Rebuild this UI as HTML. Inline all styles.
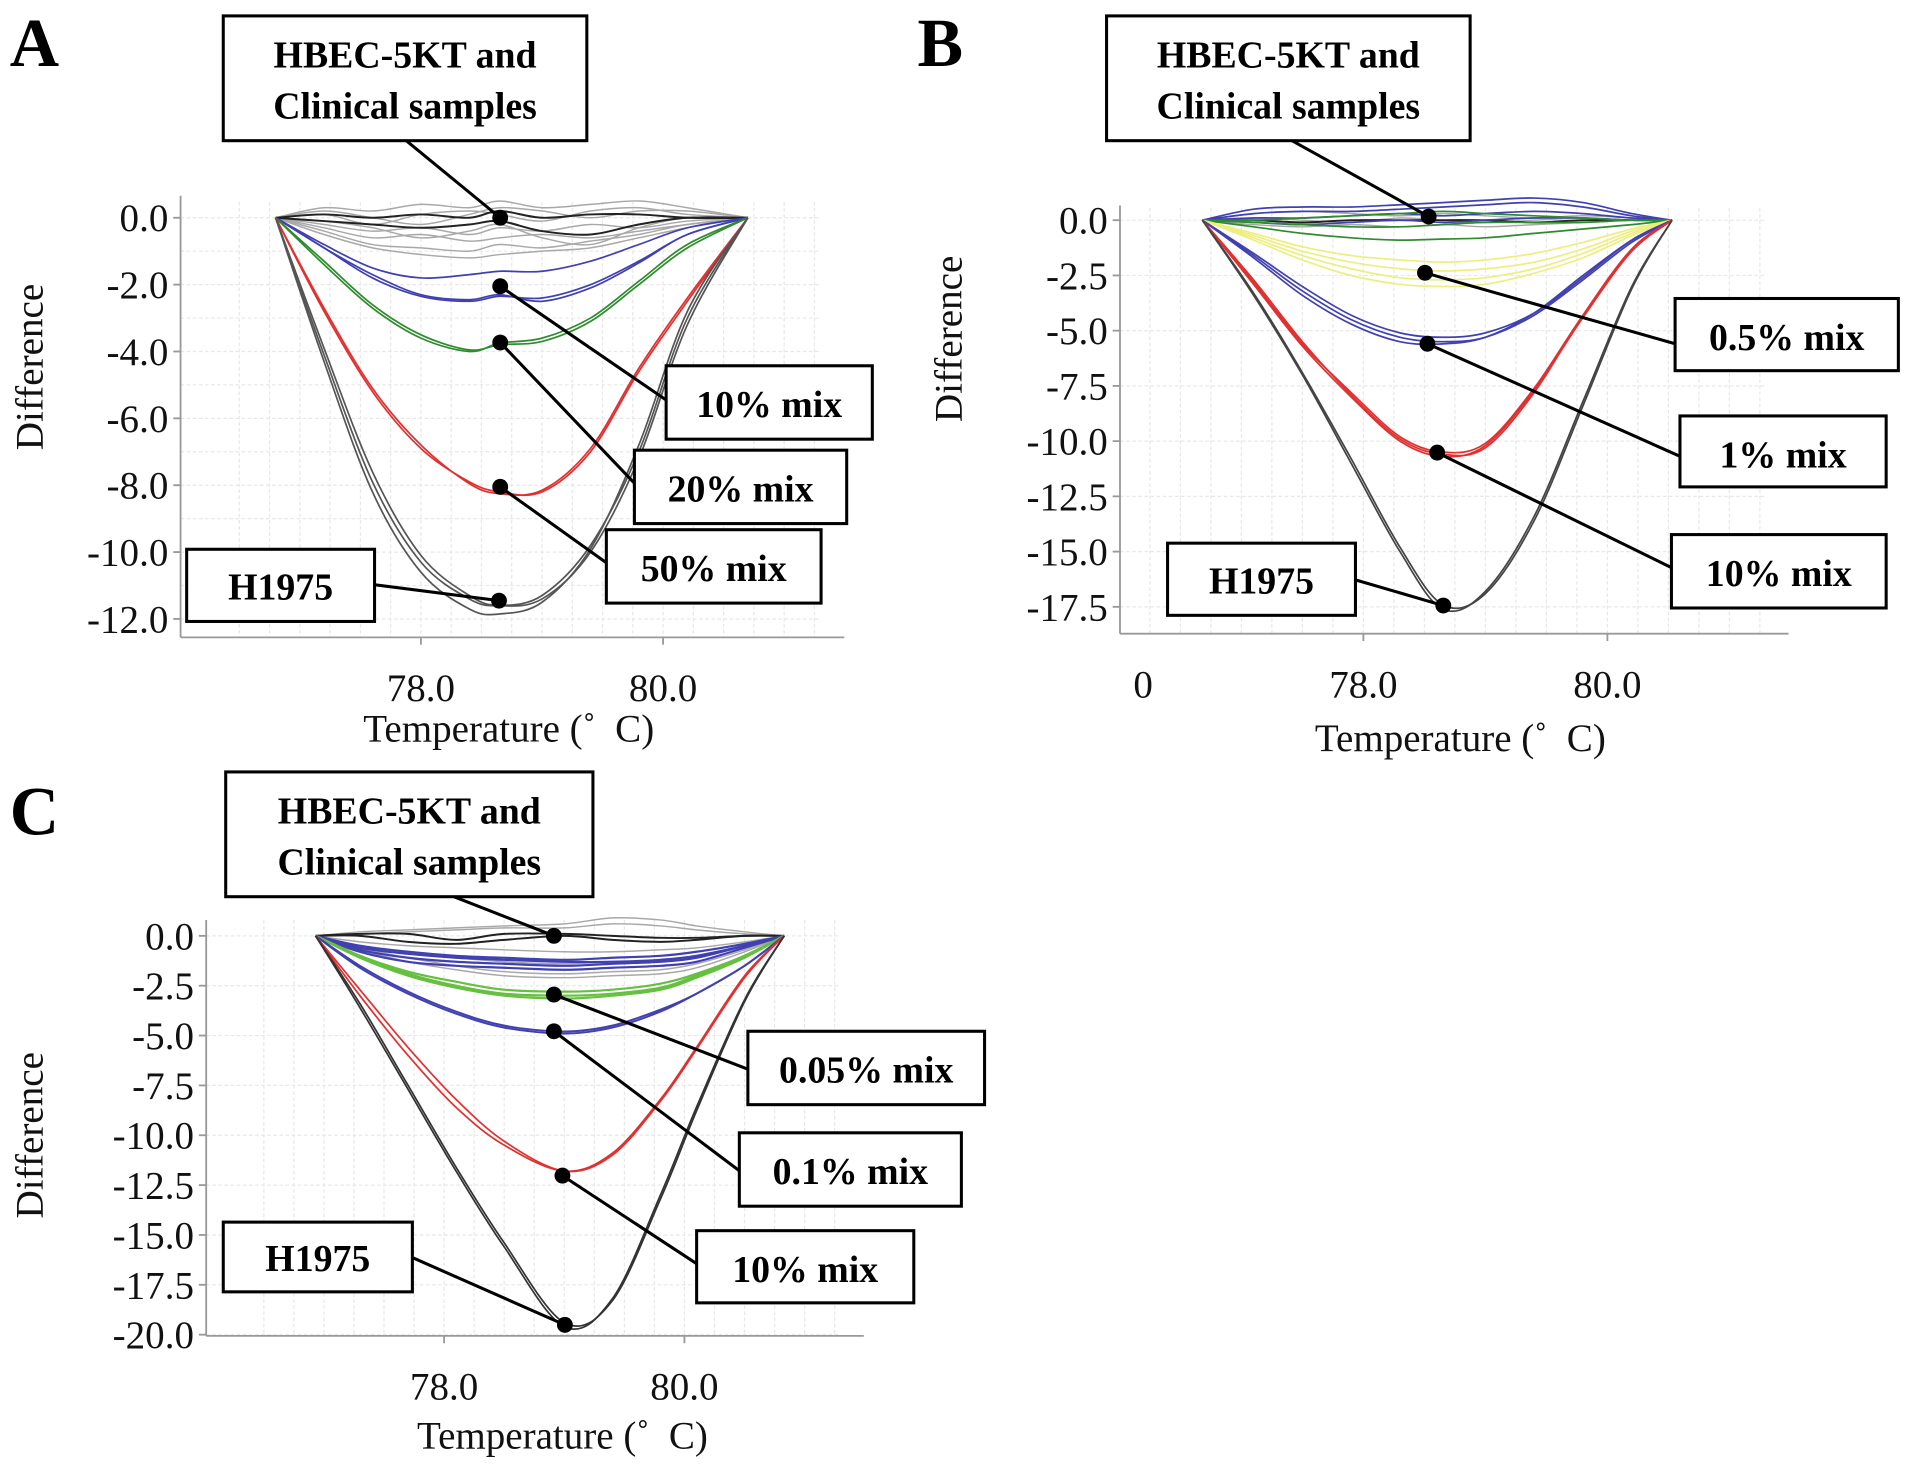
<!DOCTYPE html>
<html><head><meta charset="utf-8">
<style>
html,body{margin:0;padding:0;background:#fff;}
svg{display:block;}
text{font-family:"Liberation Serif",serif;}
.tick{font-size:32px;fill:#111;}
.ttl{font-size:32px;fill:#111;}
.box{font-size:31px;font-weight:bold;fill:#000;}
.let{font-size:56px;font-weight:bold;fill:#000;}
</style></head>
<body>
<svg id="fig" width="1913" height="1468" viewBox="0 0 1568 1200" preserveAspectRatio="none" xmlns="http://www.w3.org/2000/svg">
</svg>
<script>
// ---------- Panel A data ----------
const tempsA = [76.8,77.2,77.6,78.0,78.4,78.65,79.0,79.4,79.8,80.2,80.7];
const grayA = [
 [0,0.3,0.2,0.4,0.3,0.5,0.3,0.4,0.5,0.3,0],
 [0,0.1,-0.2,0.1,0.2,0.1,-0.1,0.2,0.3,0.1,0],
 [0,-0.2,-0.4,-0.3,-0.5,-0.3,-0.4,-0.2,-0.3,-0.1,0],
 [0,-0.3,-0.6,-0.5,-0.7,-0.6,-0.5,-0.6,-0.4,-0.2,0],
 [0,-0.4,-0.8,-0.9,-1.0,-0.8,-0.9,-0.7,-0.5,-0.2,0],
 [0,-0.5,-0.9,-1.1,-1.2,-1.1,-1.0,-0.9,-0.6,-0.3,0],
 [0,0.2,0.0,-0.2,0.1,0.3,0.2,0.0,0.2,0.2,0],
 [0,-0.1,-0.3,-0.6,-0.4,-0.2,-0.6,-0.8,-0.3,0.0,0]
];
const blackA = [
 [0,0.1,0.0,0.1,0.0,0.2,0.0,0.1,0.1,0.0,0],
 [0,-0.1,-0.2,-0.3,-0.2,-0.1,-0.4,-0.5,-0.2,0.0,0]
];
const blueA = [
 [0,-0.9,-1.8,-2.35,-2.5,-2.35,-2.4,-2.0,-1.3,-0.5,0],
 [0,-0.9,-1.7,-2.3,-2.45,-2.3,-2.5,-2.1,-1.35,-0.5,0],
 [0,-0.8,-1.5,-1.8,-1.7,-1.6,-1.6,-1.3,-0.8,-0.3,0]
];
const greenA = [
 [0,-1.3,-2.6,-3.5,-3.95,-3.8,-3.7,-3.1,-2.0,-0.9,0],
 [0,-1.4,-2.7,-3.6,-4.0,-3.75,-3.6,-3.0,-1.9,-0.8,0]
];
const redA = [
 [0,-2.8,-5.2,-6.9,-7.9,-8.2,-8.2,-7.0,-4.6,-2.5,0],
 [0,-2.7,-5.1,-6.8,-7.95,-8.25,-8.15,-6.9,-4.5,-2.4,0]
];
const h1975A = [
 [0,-4.1,-7.9,-10.3,-11.4,-11.6,-11.3,-9.8,-7.0,-3.0,0],
 [0,-3.9,-7.6,-10.1,-11.3,-11.6,-11.4,-10.0,-7.2,-3.2,0],
 [0,-4.3,-8.2,-10.6,-11.7,-11.85,-11.5,-9.9,-6.8,-2.8,0]
];
const yTicksA = [0,-2,-4,-6,-8,-10,-12];
const yLabelsA = ["0.0","-2.0","-4.0","-6.0","-8.0","-10.0","-12.0"];
const xTicksA = [78,80];
const xLabelsA = ["78.0","80.0"];

// ---------- Panel B data ----------
const tempsB = [76.68,77.1,77.5,77.9,78.3,78.65,79.0,79.4,79.8,80.2,80.53];
const grayB = [
 [0,0.3,0.4,0.3,0.2,0.3,0.2,0.1,0.2,0.1,0],
 [0,0.1,0.0,-0.1,0.1,0.0,-0.1,0.0,0.1,0.0,0],
 [0,-0.2,-0.3,-0.2,-0.3,-0.2,-0.3,-0.2,-0.1,0.0,0]
];
const blackB = [
 [0,0.0,-0.1,0.0,0.0,0.0,0.0,-0.1,0.0,0.0,0]
];
const blueSmallB = [
 [0,0.5,0.6,0.6,0.7,0.8,0.9,1.0,0.8,0.3,0],
 [0,0.3,0.4,0.4,0.5,0.6,0.7,0.8,0.6,0.2,0],
 [0,0.1,0.1,0.2,0.3,0.2,0.3,0.4,0.3,0.1,0],
 [0,-0.1,-0.2,-0.1,0.0,-0.1,0.0,0.1,0.1,0.0,0]
];
const greenB = [
 [0,-0.3,-0.6,-0.8,-0.9,-0.85,-0.8,-0.6,-0.4,-0.2,0],
 [0,-0.1,-0.2,-0.3,-0.3,-0.2,-0.1,-0.1,-0.1,0.0,0],
 [0,0.0,0.1,0.2,0.3,0.4,0.3,0.2,0.1,0.0,0]
];
const yellowB = [
 [0,-0.6,-1.2,-1.6,-1.8,-1.9,-1.8,-1.5,-1.0,-0.4,0],
 [0,-0.7,-1.4,-1.9,-2.2,-2.3,-2.2,-1.9,-1.3,-0.5,0],
 [0,-0.8,-1.6,-2.2,-2.6,-2.7,-2.6,-2.2,-1.5,-0.6,0],
 [0,-0.9,-1.8,-2.5,-2.9,-3.0,-2.9,-2.4,-1.7,-0.7,0]
];
const blueB = [
 [0,-1.5,-3.0,-4.3,-5.1,-5.3,-5.1,-4.2,-2.6,-0.9,0],
 [0,-1.6,-3.2,-4.5,-5.3,-5.5,-5.3,-4.3,-2.7,-1.0,0],
 [0,-1.7,-3.4,-4.7,-5.5,-5.6,-5.3,-4.2,-2.5,-0.9,0]
];
const redB = [
 [0,-2.8,-5.6,-7.8,-9.8,-10.5,-10.1,-7.6,-4.3,-1.4,0],
 [0,-2.9,-5.7,-8.0,-10.0,-10.7,-10.2,-7.7,-4.4,-1.4,0],
 [0,-2.7,-5.5,-7.9,-9.9,-10.6,-10.3,-7.8,-4.3,-1.3,0]
];
const h1975B = [
 [0,-3.4,-7.0,-11.0,-15.0,-17.6,-16.8,-13.4,-8.2,-3.0,0],
 [0,-3.3,-6.9,-10.8,-14.8,-17.4,-16.9,-13.6,-8.4,-3.1,0]
];
const yTicksB = [0,-2.5,-5,-7.5,-10,-12.5,-15,-17.5];
const yLabelsB = ["0.0","-2.5","-5.0","-7.5","-10.0","-12.5","-15.0","-17.5"];
const xTicksB = [78,80];
const xLabelsB = ["78.0","80.0"];

// ---------- Panel C data ----------
const tempsC = [76.93,77.3,77.7,78.1,78.5,79.0,79.4,79.8,80.1,80.5,80.83];
const grayC = [
 [0,0.2,0.3,0.4,0.5,0.6,0.9,0.8,0.5,0.2,0],
 [0,0.1,0.2,0.3,0.4,0.4,0.6,0.5,0.3,0.1,0],
 [0,-0.3,-0.5,-0.6,-0.7,-0.8,-0.8,-0.7,-0.6,-0.3,0],
 [0,-0.5,-0.9,-1.1,-1.3,-1.4,-1.3,-1.2,-1.0,-0.5,0],
 [0,-0.6,-1.1,-1.5,-1.8,-1.9,-1.8,-1.7,-1.4,-0.7,0],
 [0,-0.7,-1.3,-1.7,-2.0,-2.1,-2.0,-1.9,-1.6,-0.8,0]
];
const blackC = [
 [0,0.1,0.1,-0.2,0.1,0.1,0.0,-0.1,-0.1,0.0,0],
 [0,0.0,-0.3,-0.4,-0.2,0.0,-0.2,-0.3,-0.2,0.0,0]
];
const blueSmallC = [
 [0,-0.5,-0.8,-1.0,-1.1,-1.2,-1.1,-1.0,-0.8,-0.4,0],
 [0,-0.7,-1.1,-1.3,-1.4,-1.5,-1.4,-1.3,-1.1,-0.5,0],
 [0,-0.8,-1.3,-1.5,-1.6,-1.7,-1.6,-1.5,-1.3,-0.6,0],
 [0,-0.6,-0.9,-1.1,-1.2,-1.3,-1.3,-1.2,-1.0,-0.5,0]
];
const greenC = [
 [0,-1.0,-1.8,-2.3,-2.7,-2.8,-2.7,-2.4,-1.9,-1.0,0],
 [0,-1.0,-1.9,-2.5,-2.9,-3.0,-2.9,-2.6,-2.0,-1.0,0],
 [0,-1.1,-2.0,-2.6,-3.0,-3.15,-3.0,-2.7,-2.1,-1.1,0]
];
const blueC = [
 [0,-1.5,-2.8,-3.8,-4.5,-4.8,-4.5,-3.7,-2.9,-1.5,0],
 [0,-1.6,-2.9,-3.9,-4.6,-4.9,-4.6,-3.8,-2.9,-1.5,0]
];
const redC = [
 [0,-3.0,-6.0,-8.6,-10.5,-11.8,-10.9,-8.2,-5.6,-2.0,0],
 [0,-2.7,-5.6,-8.2,-10.3,-11.8,-11.0,-8.3,-5.7,-2.1,0]
];
const h1975C = [
 [0,-3.6,-7.7,-11.8,-15.6,-19.6,-18.2,-13.0,-8.6,-3.2,0],
 [0,-3.4,-7.5,-11.6,-15.4,-19.4,-18.3,-13.2,-8.8,-3.3,0]
];
const yTicksC = [0,-2.5,-5,-7.5,-10,-12.5,-15,-17.5,-20];
const yLabelsC = ["0.0","-2.5","-5.0","-7.5","-10.0","-12.5","-15.0","-17.5","-20.0"];
const xTicksC = [78,80];
const xLabelsC = ["78.0","80.0"];

const NS = "http://www.w3.org/2000/svg";
const svg = document.getElementById("fig");
function mk(tag, attrs, parent, txt) {
  const e = document.createElementNS(NS, tag);
  for (const k in attrs) e.setAttribute(k, attrs[k]);
  if (txt !== undefined) e.textContent = txt;
  (parent || svg).appendChild(e);
  return e;
}
function smoothPath(pts) {
  let d = "M" + pts[0][0].toFixed(1) + "," + pts[0][1].toFixed(1);
  for (let i = 0; i < pts.length - 1; i++) {
    const p0 = pts[Math.max(i - 1, 0)], p1 = pts[i], p2 = pts[i + 1], p3 = pts[Math.min(i + 2, pts.length - 1)];
    const c1x = p1[0] + (p2[0] - p0[0]) / 6, c1y = p1[1] + (p2[1] - p0[1]) / 6;
    const c2x = p2[0] - (p3[0] - p1[0]) / 6, c2y = p2[1] - (p3[1] - p1[1]) / 6;
    d += " C" + c1x.toFixed(1) + "," + c1y.toFixed(1) + " " + c2x.toFixed(1) + "," + c2y.toFixed(1) + " " + p2[0].toFixed(1) + "," + p2[1].toFixed(1);
  }
  return d;
}

function panel(cfg) {
  const g = mk("g", {});
  
  
  const xs = t => cfg.x0 + (t - cfg.t0) * cfg.pxPerDeg;
  const ys = v => cfg.y0 + (-v) * cfg.pxPerUnit;
  const grid = mk("g", {stroke: "#e8e8e8", "stroke-width": 1, "stroke-dasharray": "3,2"}, g);
  
  
  for (let t = cfg.gridT0; t <= cfg.gridT1 + 1e-6; t += 0.25) {
    mk("line", {x1: xs(t), x2: xs(t), y1: cfg.gridTop, y2: cfg.axisY}, grid);
  }
  for (let v = 0; v >= cfg.gridVmin - 1e-6; v -= cfg.gridStep) {
    mk("line", {x1: cfg.axisX, x2: cfg.axisRight - 20, y1: ys(v), y2: ys(v)}, grid);
  }
  const ax = mk("g", {stroke: "#999", "stroke-width": 1.5}, g);
  const yAx = mk("line", {x1: cfg.axisX, x2: cfg.axisX, y1: cfg.axisTop, y2: cfg.axisY}, ax);
  
  
  const xAx = mk("line", {x1: cfg.axisX, x2: cfg.axisRight, y1: cfg.axisY, y2: cfg.axisY}, ax);
  
  
  cfg.yTicks.forEach((v, i) => {
    mk("line", {x1: cfg.axisX - 6, x2: cfg.axisX, y1: ys(v), y2: ys(v)}, ax);
    const t = mk("text", {x: cfg.axisX - 10, y: ys(v) + 11, "text-anchor": "end", class: "tick"}, g, cfg.yLabels[i]);
    
    
  });
  cfg.xTicks.forEach((v, i) => {
    mk("line", {x1: xs(v), x2: xs(v), y1: cfg.axisY, y2: cfg.axisY + 6}, ax);
    const t = mk("text", {x: xs(v), y: cfg.axisY + 52, "text-anchor": "middle", class: "tick"}, g, cfg.xLabels[i]);
    
    
  });
  if (cfg.extraX) {
    const t = mk("text", {x: cfg.extraX, y: cfg.axisY + 52, "text-anchor": "middle", class: "tick"}, g, "0");
    
    
  }
  const yt = mk("text", {x: 0, y: 0, "text-anchor": "middle", class: "ttl", transform: "translate(" + cfg.yTitleX + "," + cfg.yTitleY + ") rotate(-90)"}, g, "Difference");
  
  
  const xt = mk("text", {x: cfg.xTitleX, y: cfg.xTitleY, "text-anchor": "middle", class: "ttl"}, g, "Temperature (\u02da\u2002C)");
  
  
  cfg.series.forEach(s => {
    s.data.forEach(vals => {
      const pts = cfg.temps.map((t, i) => [xs(t), ys(vals[i])]);
      const p = mk("path", {d: smoothPath(pts), fill: "none", stroke: s.color, "stroke-width": s.w || 1.4, opacity: s.op || 1}, g);
      
      
    });
  });
  cfg.notes.forEach(n => {
    const a = mk("g", {}, g);
    
    
    mk("line", {x1: n.lx, y1: n.ly, x2: n.dx, y2: n.dy, stroke: "#000", "stroke-width": 2.5}, a);
    mk("circle", {cx: n.dx, cy: n.dy, r: 6.5, fill: "#000"}, a);
    mk("rect", {x: n.bx, y: n.by, width: n.bw, height: n.bh, fill: "#fff", stroke: "#000", "stroke-width": 2.5}, a);
    n.lines.forEach((l, i) => {
      mk("text", {x: n.bx + n.bw / 2, y: n.by + n.t0 + i * 42, "text-anchor": "middle", class: "box"}, a, l);
    });
  });
  const L = mk("text", {x: cfg.letX, y: cfg.letY, class: "let"}, g, cfg.letter);
  
  
}

const GR = "#a8a8a8", BK = "#222", BL = "#4040b0", GN = "#2e8b2e", RD = "#e03030", YL = "#eeee80", LG = "#66c040";

panel({
  name: "panel-a", letter: "A", letX: 8, letY: 54,
  temps: tempsA, t0: 78, x0: 345, pxPerDeg: 99.25, y0: 178, pxPerUnit: 27.33,
  axisX: 148, axisTop: 160, axisY: 521, axisRight: 692, gridTop: 165, gridT0: 76.5, gridT1: 81.25, gridVmin: -12.5, gridStep: 1,
  yTicks: yTicksA, yLabels: yLabelsA, xTicks: xTicksA, xLabels: xLabelsA,
  yTitleX: 35, yTitleY: 300, xTitleX: 417, xTitleY: 606,
  series: [
    {name: "clinical-line", color: GR, data: grayA, w: 1.2},
    {name: "hbec-line", color: BK, data: blackA, w: 1.6},
    {name: "mix-10-line", color: BL, data: blueA},
    {name: "mix-20-line", color: GN, data: greenA},
    {name: "mix-50-line", color: RD, data: redA},
    {name: "h1975-line", color: "#555", data: h1975A}
  ],
  notes: [
    {name: "label-clinical", bx: 183, by: 13, bw: 298, bh: 102, t0: 42, lines: ["HBEC-5KT and", "Clinical samples"], lx: 333, ly: 115, dx: 410, dy: 178},
    {name: "label-10-mix", bx: 546, by: 299, bw: 169, bh: 60, t0: 42, lines: ["10% mix"], lx: 546, ly: 327, dx: 410, dy: 234},
    {name: "label-20-mix", bx: 520, by: 368, bw: 174, bh: 60, t0: 42, lines: ["20% mix"], lx: 520, ly: 395, dx: 410, dy: 280},
    {name: "label-50-mix", bx: 497, by: 433, bw: 176, bh: 60, t0: 42, lines: ["50% mix"], lx: 497, ly: 460, dx: 410, dy: 398},
    {name: "label-h1975", bx: 153, by: 449, bw: 154, bh: 59, t0: 41, lines: ["H1975"], lx: 307, ly: 478, dx: 409, dy: 491}
  ]
});

panel({
  name: "panel-b", letter: "B", letX: 752, letY: 54,
  temps: tempsB, t0: 78, x0: 1117.5, pxPerDeg: 100, y0: 180, pxPerUnit: 18.06,
  axisX: 918, axisTop: 168, axisY: 518, axisRight: 1466, gridTop: 170, gridT0: 76.25, gridT1: 81.25, gridVmin: -17.5, gridStep: 2.5,
  yTicks: yTicksB, yLabels: yLabelsB, xTicks: xTicksB, xLabels: xLabelsB, extraX: 937,
  yTitleX: 788, yTitleY: 277, xTitleX: 1197, xTitleY: 614,
  series: [
    {name: "clinical-line", color: GR, data: grayB, w: 1.2},
    {name: "hbec-line", color: BK, data: blackB, w: 1.6},
    {name: "blue-baseline-line", color: BL, data: blueSmallB},
    {name: "green-baseline-line", color: GN, data: greenB},
    {name: "mix-0-5-line", color: YL, data: yellowB},
    {name: "mix-1-line", color: BL, data: blueB},
    {name: "mix-10-line", color: RD, data: redB},
    {name: "h1975-line", color: "#444", data: h1975B}
  ],
  notes: [
    {name: "label-clinical", bx: 907, by: 13, bw: 298, bh: 102, t0: 42, lines: ["HBEC-5KT and", "Clinical samples"], lx: 1059, ly: 115, dx: 1171, dy: 177},
    {name: "label-0-5-mix", bx: 1373, by: 244, bw: 183, bh: 59, t0: 42, lines: ["0.5% mix"], lx: 1373, ly: 281, dx: 1168, dy: 223},
    {name: "label-1-mix", bx: 1377, by: 340, bw: 169, bh: 58, t0: 42, lines: ["1% mix"], lx: 1377, ly: 373, dx: 1170, dy: 281},
    {name: "label-10-mix", bx: 1370, by: 437, bw: 176, bh: 60, t0: 42, lines: ["10% mix"], lx: 1370, ly: 464, dx: 1178, dy: 370},
    {name: "label-h1975", bx: 957, by: 444, bw: 154, bh: 59, t0: 41, lines: ["H1975"], lx: 1111, ly: 474, dx: 1183, dy: 495}
  ]
});

panel({
  name: "panel-c", letter: "C", letX: 8, letY: 682,
  temps: tempsC, t0: 78, x0: 364, pxPerDeg: 98.5, y0: 765, pxPerUnit: 16.3,
  axisX: 169, axisTop: 752, axisY: 1092, axisRight: 708, gridTop: 752, gridT0: 76.5, gridT1: 81.25, gridVmin: -20, gridStep: 2.5,
  yTicks: yTicksC, yLabels: yLabelsC, xTicks: xTicksC, xLabels: xLabelsC,
  yTitleX: 35, yTitleY: 928, xTitleX: 461, xTitleY: 1184,
  series: [
    {name: "clinical-line", color: GR, data: grayC, w: 1.2},
    {name: "hbec-line", color: BK, data: blackC, w: 1.6},
    {name: "blue-baseline-line", color: BL, data: blueSmallC, w: 1.8},
    {name: "mix-0-05-line", color: LG, data: greenC, w: 1.8},
    {name: "mix-0-1-line", color: BL, data: blueC, w: 1.6},
    {name: "mix-10-line", color: RD, data: redC},
    {name: "h1975-line", color: "#333", data: h1975C}
  ],
  notes: [
    {name: "label-clinical", bx: 185, by: 631, bw: 301, bh: 102, t0: 42, lines: ["HBEC-5KT and", "Clinical samples"], lx: 372, ly: 733, dx: 454, dy: 765},
    {name: "label-0-05-mix", bx: 613, by: 843, bw: 194, bh: 60, t0: 42, lines: ["0.05% mix"], lx: 613, ly: 874, dx: 454, dy: 813},
    {name: "label-0-1-mix", bx: 606, by: 926, bw: 182, bh: 60, t0: 42, lines: ["0.1% mix"], lx: 606, ly: 957, dx: 454, dy: 843},
    {name: "label-10-mix", bx: 571, by: 1006, bw: 178, bh: 59, t0: 42, lines: ["10% mix"], lx: 571, ly: 1033, dx: 461, dy: 961},
    {name: "label-h1975", bx: 183, by: 999, bw: 155, bh: 57, t0: 40, lines: ["H1975"], lx: 338, ly: 1028, dx: 463, dy: 1083}
  ]
});
</script>
</body></html>
